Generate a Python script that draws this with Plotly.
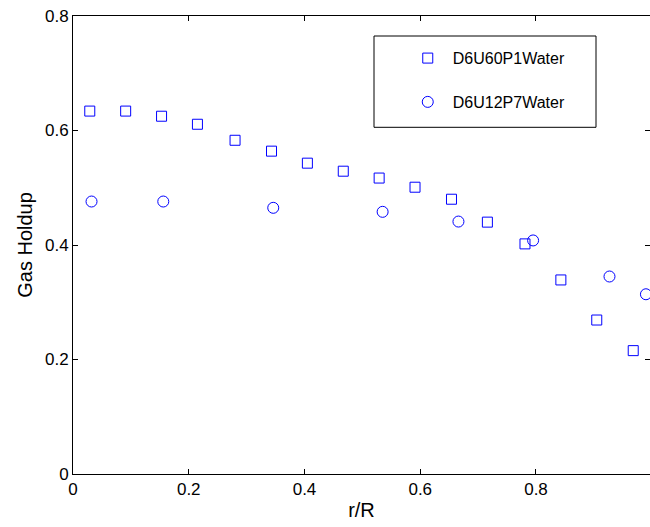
import plotly.graph_objects as go

# D6U60P1Water (squares)
sq_x = [0.029, 0.091, 0.153, 0.215, 0.280, 0.343, 0.405, 0.467, 0.529, 0.591, 0.654, 0.716, 0.781, 0.843, 0.905, 0.968]
sq_y = [0.634, 0.634, 0.625, 0.611, 0.583, 0.564, 0.543, 0.529, 0.517, 0.501, 0.480, 0.440, 0.402, 0.339, 0.269, 0.2155]
# D6U12P7Water (circles)
ci_x = [0.032, 0.156, 0.346, 0.535, 0.666, 0.795, 0.927, 0.990]
ci_y = [0.476, 0.476, 0.465, 0.458, 0.441, 0.408, 0.345, 0.314]

x_ticks = [0, 0.2, 0.4, 0.6, 0.8]
x_labels = ["0", "0.2", "0.4", "0.6", "0.8"]
y_ticks = [0, 0.2, 0.4, 0.6, 0.8]
y_labels = ["0", "0.2", "0.4", "0.6", "0.8"]

FONT = "Liberation Sans, Arial, sans-serif"
BLUE = "rgb(0,0,255)"

fig = go.Figure()
fig.add_trace(go.Scatter(
    x=sq_x, y=sq_y, mode="markers", name="D6U60P1Water", legendgroup="a",
    marker=dict(symbol="square-open", size=10, color=BLUE, line=dict(width=1, color=BLUE)),
))
fig.add_trace(go.Scatter(
    x=ci_x, y=ci_y, mode="markers", name="D6U12P7Water", legendgroup="b",
    marker=dict(symbol="circle-open", size=11, color=BLUE, line=dict(width=1, color=BLUE)),
))
# invisible trace on right axis for mirrored right ticks
fig.add_trace(go.Scatter(x=[None], y=[None], yaxis="y2", showlegend=False, hoverinfo="skip"))

fig.update_layout(
    width=650, height=527,
    margin=dict(l=73, r=0, t=16, b=53),
    paper_bgcolor="white", plot_bgcolor="white",
    font=dict(family=FONT, size=17, color="black"),
    showlegend=True,
    legend=dict(
        x=0.5715, y=0.945, xanchor="left", yanchor="top",
        bgcolor="rgba(0,0,0,0)", borderwidth=0,
        font=dict(size=16, family=FONT), tracegroupgap=20, itemwidth=40,
    ),
    xaxis=dict(
        range=[0, 0.997], tickvals=x_ticks, ticktext=x_labels,
        ticks="inside", ticklen=5, tickwidth=1, tickcolor="black",
        showline=True, linecolor="black", linewidth=1, mirror="ticks",
        showgrid=False, zeroline=False,
        title=dict(text="r/R", font=dict(size=20), standoff=4),
    ),
    yaxis=dict(
        range=[0, 0.8001], tickvals=y_ticks, ticktext=y_labels,
        ticks="inside", ticklen=5, tickwidth=1, tickcolor="black",
        showline=True, linecolor="black", linewidth=1, mirror=False,
        showgrid=False, zeroline=False,
        title=dict(text="Gas Holdup", font=dict(size=20), standoff=6),
    ),
    yaxis2=dict(
        overlaying="y", side="right", range=[0, 0.8001], tickvals=y_ticks,
        ticks="inside", ticklen=5, tickwidth=1, tickcolor="black",
        showticklabels=False, showline=False, showgrid=False, zeroline=False,
    ),
    shapes=[dict(
        type="rect", xref="paper", yref="paper",
        x0=(374 - 73) / 577, x1=(596 - 73) / 577,
        y0=(473.7 - 127) / 458, y1=(473.7 - 35.7) / 458,
        line=dict(color="black", width=1), fillcolor="rgba(0,0,0,0)",
    )],
)

fig.write_html("out.html")
